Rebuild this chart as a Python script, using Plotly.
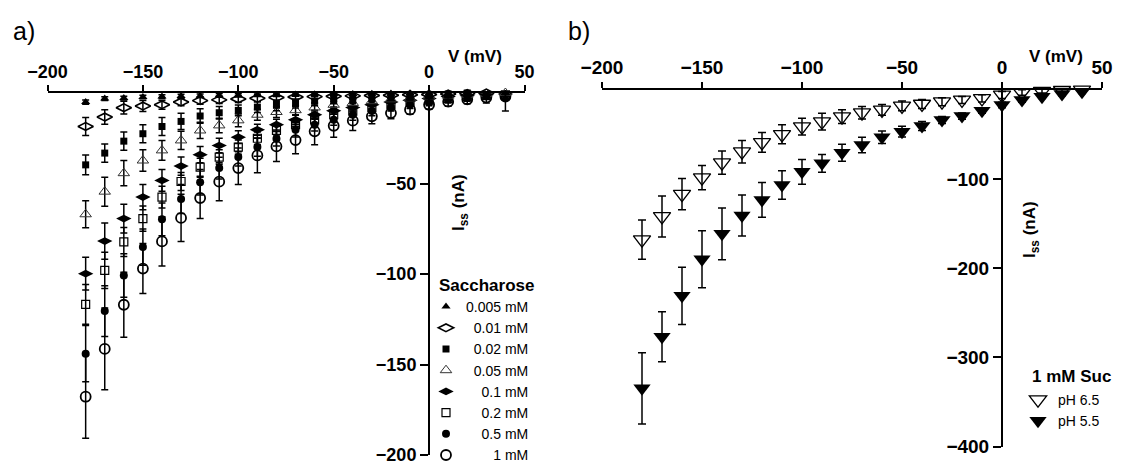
import plotly.graph_objects as go

# ---------------- data ----------------
V = [-180, -170, -160, -150, -140, -130, -120, -110, -100, -90, -80, -70,
     -60, -50, -40, -30, -20, -10, 0, 10, 20, 30, 40]

# panel a: Saccharose concentrations
suc_0005 = [-5.0, -3.1, -2.8, -2.2, -2.0, -1.7, -1.5, -1.3, -1.2, -1.0, -0.9, -0.8,
            -0.7, -0.6, -0.5, -0.4, -0.3, -0.2, -0.1, 0.2, 0.5, 0.8, 1.0]
err_0005 = [1.2, 1.0, 1.0, 1.0, 1.0, 1.0, 1.0, 1.0, 1.0, 1.0, 1.0, 1.0,
            1.0, 1.0, 1.0, 1.0, 1.0, 1.0, 1.0, 1.0, 1.0, 1.0, 1.5]
suc_001 = [-18.5, -13.3, -8.1, -7.2, -6.5, -5.0, -4.2, -3.8, -3.3, -2.9, -2.5, -2.2,
           -2.0, -1.8, -1.6, -1.4, -1.2, -1.0, -0.8, -0.5, -0.3, 0.0, 0.3]
err_001 = [5.0, 4.0, 3.5, 3.0, 2.5, 2.0, 2.0, 2.0, 2.0, 2.0, 2.0, 1.5,
           1.5, 1.5, 1.5, 1.5, 1.5, 1.5, 1.5, 1.5, 1.5, 2.0, 2.5]
suc_002 = [-39.7, -33.2, -26.6, -22.5, -18.5, -15.7, -12.7, -10.9, -9.6, -7.8, -6.8, -5.8,
           -4.6, -4.0, -3.3, -2.8, -2.2, -1.8, -1.2, -0.6, 0.0, 1.0, 2.0]
err_002 = [5.5, 5.0, 5.0, 5.0, 5.0, 4.5, 4.0, 3.5, 3.0, 3.0, 3.0, 2.5,
           2.5, 2.0, 2.0, 2.0, 2.0, 2.0, 2.0, 2.0, 2.5, 3.0, 4.0]
suc_005 = [-67.0, -54.5, -44.3, -37.3, -31.7, -26.2, -20.7, -17.9, -15.1, -12.0, -10.5, -9.5,
           -8.0, -6.5, -5.5, -4.5, -3.5, -3.0, -2.0, -1.5, -1.0, -0.5, 0.0]
err_005 = [7.5, 8.0, 7.0, 6.0, 5.5, 5.0, 4.5, 4.0, 3.5, 3.0, 3.0, 2.5,
           2.5, 2.0, 2.0, 2.0, 2.0, 2.0, 2.0, 2.0, 2.0, 2.0, 3.0]
suc_01 = [-99.8, -81.8, -69.4, -57.5, -48.3, -40.4, -34.1, -29.0, -24.4, -20.3, -17.5, -14.8,
          -12.0, -9.8, -8.0, -6.5, -5.0, -4.0, -3.0, -2.0, -1.5, -1.0, -0.5]
err_01 = [9.0, 10.0, 8.0, 7.0, 6.0, 5.0, 4.5, 4.0, 3.5, 3.0, 3.0, 2.5,
          2.5, 2.0, 2.0, 2.0, 2.0, 2.0, 2.0, 2.0, 2.0, 2.0, 3.0]
suc_02 = [-116.8, -98.0, -82.3, -69.4, -57.5, -48.9, -41.0, -35.4, -29.9, -25.0, -20.7, -17.5,
          -14.8, -12.0, -10.0, -8.0, -6.5, -5.0, -4.0, -3.0, -2.0, -1.5, -1.0]
err_02 = [11.0, 10.0, 8.0, 7.0, 6.0, 5.0, 5.0, 4.0, 4.0, 3.5, 3.0, 3.0,
          2.5, 2.5, 2.0, 2.0, 2.0, 2.0, 2.0, 2.0, 2.0, 2.0, 3.0]
suc_05 = [-144.0, -120.5, -100.8, -85.1, -69.8, -58.6, -49.3, -41.5, -35.4, -29.9, -25.3, -20.3,
          -17.5, -14.8, -12.0, -10.0, -8.0, -6.5, -5.0, -3.5, -2.5, -1.5, -1.0]
err_05 = [15.5, 14.0, 12.0, 10.0, 9.0, 8.0, 7.0, 6.0, 5.0, 5.0, 4.0, 4.0,
          3.5, 3.0, 3.0, 2.5, 2.0, 2.0, 2.0, 2.0, 2.0, 2.0, 3.0]
suc_1 = [-167.8, -141.4, -117.0, -97.0, -82.0, -69.0, -58.0, -49.0, -41.5, -34.5, -29.5, -26.0,
         -21.2, -18.1, -15.3, -12.9, -11.1, -9.2, -6.5, -4.8, -3.5, -2.5, -2.0]
err_1 = [23.0, 22.6, 18.0, 13.8, 13.6, 13.0, 11.4, 10.5, 9.0, 9.5, 8.3, 7.6,
         7.4, 6.3, 5.4, 4.1, 3.1, 2.5, 2.5, 2.5, 2.5, 3.0, 8.0]

labels_a = ["0.005 mM", "\u20070.01 mM", "\u20070.02 mM", "\u20070.05 mM",
            "\u2007\u20070.1 mM", "\u2007\u20070.2 mM", "\u2007\u20070.5 mM",
            "\u2007\u2007\u2007\u20081 mM"]

# panel b: 1 mM sucrose at two pH values
ph65 = [-168.0, -142.0, -117.0, -98.5, -81.7, -69.4, -58.9, -49.9, -41.3, -35.7, -30.1, -25.6,
        -22.6, -18.1, -15.9, -13.3, -11.4, -9.6, -5.8, -3.0, -1.5, -0.5, 0.0]
err65 = [22.0, 23.0, 17.5, 13.5, 13.0, 12.7, 11.0, 10.6, 9.3, 9.3, 7.8, 7.0,
         6.0, 5.5, 5.0, 4.5, 4.0, 4.0, 4.0, 3.0, 2.0, 2.0, 2.0]
ph55 = [-334.7, -276.8, -231.0, -190.0, -161.5, -141.0, -123.5, -106.7, -92.0, -82.4, -70.5, -61.9,
        -53.3, -47.0, -40.6, -33.9, -29.4, -23.4, -17.0, -11.4, -7.7, -4.7, -2.1]
err55 = [40.0, 28.0, 32.0, 32.0, 29.0, 23.0, 19.5, 16.0, 14.0, 10.0, 9.5, 8.7,
         7.0, 6.0, 5.0, 4.0, 3.5, 3.0, 3.0, 2.5, 2.0, 2.0, 2.0]
labels_b = ["pH 6.5", "pH 5.5"]

x_ticks = [-200, -150, -100, -50, 0, 50]
ya_ticks = [-50, -100, -150, -200]
yb_ticks = [-100, -200, -300, -400]

# ---------------- figure ----------------
W, H = 1124, 464
FONT = "Liberation Sans, Arial, Helvetica, sans-serif"


def PX(x):
    return x / W


def PY(y):
    return 1 - y / H


fig = go.Figure()

series_a = [
    (suc_1, err_1, dict(symbol="circle-open", size=10, color="black", line=dict(width=1.8, color="black"))),
    (suc_05, err_05, dict(symbol="circle", size=8, color="black")),
    (suc_02, err_02, dict(symbol="square-open", size=8, color="black", line=dict(width=1.2, color="black"))),
    (suc_01, err_01, dict(symbol="diamond-wide", size=11, color="black")),
    (suc_005, err_005, dict(symbol="triangle-up-open", size=10, color="#333", line=dict(width=1.0, color="#333"))),
    (suc_002, err_002, dict(symbol="square", size=7, color="black")),
    (suc_001, err_001, dict(symbol="diamond-wide-open", size=11, color="black", line=dict(width=1.6, color="black"))),
    (suc_0005, err_0005, dict(symbol="triangle-up", size=8, color="black")),
]
names_rev = labels_a[::-1]
for (vals, err, mk), nm in zip(series_a, names_rev):
    fig.add_trace(go.Scatter(
        x=V, y=vals, mode="markers", name=nm, marker=mk,
        error_y=dict(type="data", array=err, color="black", thickness=1.5, width=3.5),
        xaxis="x", yaxis="y", legend="legend", cliponaxis=False,
    ))

fig.add_trace(go.Scatter(
    x=V, y=ph55, mode="markers", name=labels_b[1],
    marker=dict(symbol="triangle-down", size=15, color="black"),
    error_y=dict(type="data", array=err55, color="black", thickness=1.5, width=4),
    xaxis="x2", yaxis="y2", legend="legend2", cliponaxis=False,
))
fig.add_trace(go.Scatter(
    x=V, y=ph65, mode="markers", name=labels_b[0],
    marker=dict(symbol="triangle-down-open", size=15, color="black", line=dict(width=1.3, color="black")),
    error_y=dict(type="data", array=err65, color="black", thickness=1.5, width=4),
    xaxis="x2", yaxis="y2", legend="legend2", cliponaxis=False,
))

tickfont_a = dict(family=FONT, size=18, color="black", weight="bold")
tickfont_b = dict(family=FONT, size=19, color="black", weight="bold")
common_x = dict(range=[-200, 50], side="top", tickvals=x_ticks, ticks="outside", ticklen=6,
                tickwidth=2, tickcolor="black", showline=True, linewidth=2, linecolor="black",
                showgrid=False, zeroline=False, automargin=False, ticklabeloverflow="allow")
common_y = dict(side="left", ticks="outside", ticklen=8, tickwidth=2, tickcolor="black",
                showline=True, linewidth=2, linecolor="black", showgrid=False, zeroline=False,
                anchor="free", automargin=False, ticklabeloverflow="allow")

fig.update_layout(
    width=W, height=H,
    margin=dict(l=0, r=0, t=0, b=0, autoexpand=False),
    paper_bgcolor="white", plot_bgcolor="white",
    font=dict(family=FONT, color="black"),
    xaxis=dict(domain=[PX(47.5), PX(524.5)], anchor="y", tickfont=tickfont_a, **common_x),
    yaxis=dict(domain=[PY(455), PY(93)], range=[-200, 0], position=PX(429),
               tickvals=ya_ticks, tickfont=tickfont_a, **common_y),
    xaxis2=dict(domain=[PX(602), PX(1102)], anchor="y2", tickfont=tickfont_b, **common_x),
    yaxis2=dict(domain=[PY(446.6), PY(89.8)], range=[-400, 0], position=PX(1002),
                tickvals=yb_ticks, tickfont=tickfont_b, **common_y),
    legend=dict(x=PX(426), y=PY(291), xanchor="left", yanchor="top", traceorder="reversed",
                bgcolor="rgba(0,0,0,0)", font=dict(family=FONT, size=14, color="black")),
    legend2=dict(x=PX(1018), y=PY(384), xanchor="left", yanchor="top", traceorder="reversed",
                 bgcolor="rgba(0,0,0,0)", font=dict(family=FONT, size=14, color="black")),
    showlegend=True,
)

ann_bold = dict(family=FONT, size=17, color="black", weight="bold")
annotations = [
    dict(text="a)", x=PX(11), y=PY(31), xanchor="left", yanchor="middle",
         font=dict(family=FONT, size=25, color="black")),
    dict(text="b)", x=PX(566), y=PY(31), xanchor="left", yanchor="middle",
         font=dict(family=FONT, size=25, color="black")),
    dict(text="V (mV)", x=PX(475), y=PY(57), xanchor="center", yanchor="middle", font=ann_bold),
    dict(text="V (mV)", x=PX(1056), y=PY(57), xanchor="center", yanchor="middle", font=ann_bold),
    dict(text="I<sub>ss</sub> (nA)", x=PX(460), y=PY(203), xanchor="center", yanchor="middle",
         textangle=-90, font=ann_bold),
    dict(text="I<sub>ss</sub> (nA)", x=PX(1031), y=PY(230), xanchor="center", yanchor="middle",
         textangle=-90, font=ann_bold),
    dict(text="Saccharose", x=PX(437), y=PY(285), xanchor="left", yanchor="middle", font=ann_bold),
    dict(text="1 mM Suc", x=PX(1030), y=PY(376), xanchor="left", yanchor="middle", font=ann_bold),
]
for a in annotations:
    a.update(xref="paper", yref="paper", showarrow=False)
fig.update_layout(annotations=annotations)

fig.write_html("out.html", config={"displayModeBar": False},
               post_script="document.body.style.margin='0';document.body.style.overflow='hidden';")
